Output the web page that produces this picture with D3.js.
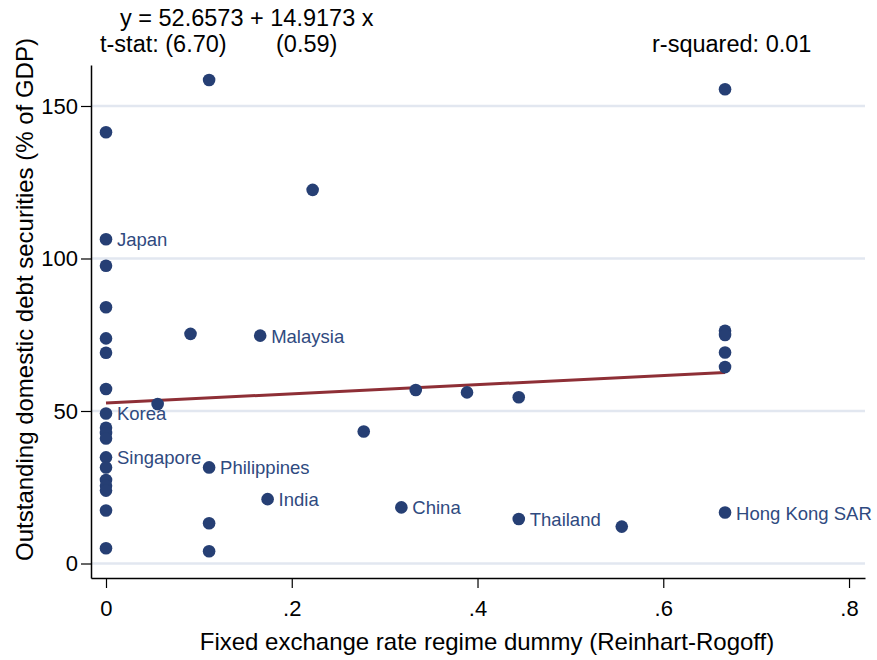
<!DOCTYPE html>
<html>
<head>
<meta charset="utf-8">
<script src="https://cdn.jsdelivr.net/npm/d3@7"></script>
<style>
  html, body { margin: 0; padding: 0; background: #fff; }
  svg { display: block; font-family: "Liberation Sans", Arial, sans-serif; }
</style>
</head>
<body>
<svg id="chart" width="877" height="660"></svg>
<script>
// Fixed exchange rate regime share vs. outstanding domestic debt securities
const regimeShare = [
  0, 0, 0, 0, 0, 0, 0, 0, 0, 0, 0, 0, 0, 0, 0, 0, 0, 0,
  0.0556, 0.091,
  0.111, 0.111, 0.111, 0.111,
  0.166, 0.174, 0.2225, 0.2775, 0.318, 0.3335, 0.3887,
  0.4444, 0.4444, 0.5553,
  0.6665, 0.6665, 0.6665, 0.6665, 0.6665, 0.6665
];
const debtPctGDP = [
  141.4, 106.3, 97.6, 84.0, 73.8, 69.1, 57.2, 49.2, 44.5, 42.8, 41.0, 34.8, 31.5, 27.4, 25.5, 23.9, 17.4, 5.0,
  52.3, 75.3,
  158.5, 31.5, 13.2, 4.0,
  74.7, 21.1, 122.5, 43.3, 18.4, 56.9, 56.1,
  54.5, 14.6, 12.1,
  155.5, 76.3, 74.9, 69.2, 64.4, 16.7
];
const countryLabels = [
  "", "Japan", "", "", "", "", "", "Korea", "", "", "", "Singapore", "", "", "", "", "", "",
  "", "",
  "", "Philippines", "", "",
  "Malaysia", "India", "", "", "China", "", "",
  "", "Thailand", "",
  "", "", "", "", "", "Hong Kong SAR"
];

// Fitted line and statistics
const intercept = 52.6573;
const slope = 14.9173;
const tIntercept = "6.70";
const tSlope = "0.59";
const rSquared = "0.01";

const xTicks = [0, 0.2, 0.4, 0.6, 0.8];
const yTicks = [0, 50, 100, 150];

const xTitle = "Fixed exchange rate regime dummy (Reinhart-Rogoff)";
const yTitle = "Outstanding domestic debt securities (% of GDP)";

const plot = { left: 91, right: 865, top: 65, bottom: 578 };
const navy = "#263f74";
const labelColor = "#2f4a80";
const maroon = "#8e2f36";

const svg = d3.select("#chart");

const x = d3.scaleLinear().domain([-0.01615, 0.8172]).range([plot.left, plot.right]);
const y = d3.scaleLinear().domain([-4.754, 163.44]).range([plot.bottom, plot.top]);

// Horizontal grid
svg.append("g")
  .selectAll("line")
  .data(yTicks)
  .join("line")
  .attr("x1", plot.left).attr("x2", plot.right)
  .attr("y1", d => y(d)).attr("y2", d => y(d))
  .attr("stroke", "#e2e7f0")
  .attr("stroke-width", 2.5);

// Axes
const fmtX = d => d === 0 ? "0" : d3.format(".1f")(d).replace(/^0/, "");

const gx = svg.append("g")
  .attr("transform", `translate(0,${plot.bottom})`)
  .call(d3.axisBottom(x).tickValues(xTicks).tickFormat(fmtX).tickSize(10).tickSizeOuter(0).tickPadding(12));

const gy = svg.append("g")
  .attr("transform", `translate(${plot.left},0)`)
  .call(d3.axisLeft(y).tickValues(yTicks).tickFormat(d3.format("d")).tickSize(10).tickSizeOuter(0).tickPadding(3));

[gx, gy].forEach(g => {
  g.select(".domain").attr("stroke", "#000").attr("stroke-width", 1.5);
  g.selectAll(".tick line").attr("stroke", "#000").attr("stroke-width", 1.2);
  g.selectAll(".tick text").attr("fill", "#000").attr("font-size", 22)
    .attr("font-family", "'Liberation Sans', Arial, sans-serif");
});

// Fitted regression line over the observed range
const xMin = d3.min(regimeShare), xMax = d3.max(regimeShare);
svg.append("line")
  .attr("x1", x(xMin)).attr("y1", y(intercept + slope * xMin))
  .attr("x2", x(xMax)).attr("y2", y(intercept + slope * xMax))
  .attr("stroke", maroon)
  .attr("stroke-width", 3);

// Points
const points = regimeShare.map((v, i) => ({ x: v, y: debtPctGDP[i], label: countryLabels[i] }));

svg.append("g")
  .selectAll("circle")
  .data(points)
  .join("circle")
  .attr("cx", d => x(d.x))
  .attr("cy", d => y(d.y))
  .attr("r", 6.3)
  .attr("fill", navy);

svg.append("g")
  .selectAll("text")
  .data(points.filter(d => d.label))
  .join("text")
  .attr("x", d => x(d.x) + 11)
  .attr("y", d => y(d.y) + 7)
  .attr("font-size", 18.5)
  .attr("fill", labelColor)
  .text(d => d.label);

// Axis titles
svg.append("text")
  .attr("x", 487)
  .attr("y", 650)
  .attr("text-anchor", "middle")
  .attr("font-size", 24)
  .attr("fill", "#000")
  .text(xTitle);

svg.append("text")
  .attr("transform", `translate(33,${(plot.top + plot.bottom) / 2 - 22}) rotate(-90)`)
  .attr("text-anchor", "middle")
  .attr("font-size", 24)
  .attr("fill", "#000")
  .text(yTitle);

// Regression annotation
const note = svg.append("g").attr("font-size", 23.5).attr("fill", "#000");
note.append("text").attr("x", 120).attr("y", 26)
  .text(`y = ${intercept} + ${slope} x`);
note.append("text").attr("x", 100).attr("y", 52)
  .text(`t-stat: (${tIntercept})`);
note.append("text").attr("x", 276).attr("y", 52)
  .text(`(${tSlope})`);
note.append("text").attr("x", 652).attr("y", 52)
  .text(`r-squared: ${rSquared}`);
</script>
</body>
</html>
